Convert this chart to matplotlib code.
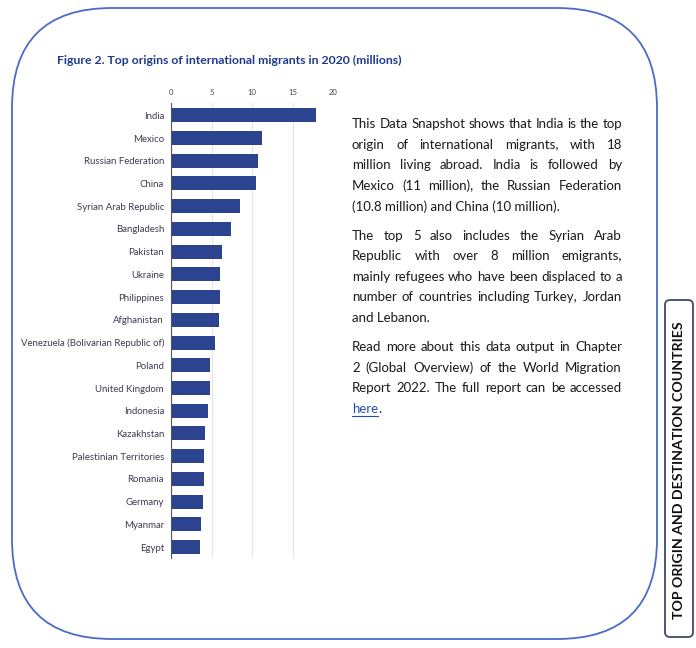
import matplotlib.pyplot as plt
import numpy as np
from matplotlib.patches import FancyBboxPatch

countries = ['India', 'Mexico', 'Russian Federation', 'China', 'Syrian Arab Republic',
             'Bangladesh', 'Pakistan', 'Ukraine', 'Philippines', 'Afghanistan',
             'Venezuela (Bolivarian Republic of)', 'Poland', 'United Kingdom', 'Indonesia',
             'Kazakhstan', 'Palestinian Territories', 'Romania', 'Germany', 'Myanmar', 'Egypt']
migrants = [17.9, 11.2, 10.8, 10.5, 8.5, 7.4, 6.3, 6.1, 6.1, 5.9,
            5.4, 4.8, 4.8, 4.6, 4.2, 4.1, 4.1, 3.9, 3.7, 3.6]
xticks = [0, 5, 10, 15, 20]

title = 'Figure 2. Top origins of international migrants in 2020 (millions)'
side_label = 'TOP ORIGIN AND DESTINATION COUNTRIES'
paragraphs = [
    ['This Data Snapshot shows that India is the top',
     'origin of international migrants, with 18',
     'million living abroad. India is followed by',
     'Mexico (11 million), the Russian Federation',
     '(10.8 million) and China (10 million).'],
    ['The top 5 also includes the Syrian Arab',
     'Republic with over 8 million emigrants,',
     'mainly refugees who have been displaced to a',
     'number of countries including Turkey, Jordan',
     'and Lebanon.'],
    ['Read more about this data output in Chapter',
     '2 (Global Overview) of the World Migration',
     'Report 2022. The full report can be accessed',
     'here.'],
]

fig = plt.figure(figsize=(6.96, 6.48), dpi=100)

# page layer in pixel coordinates
bg = fig.add_axes([0, 0, 1, 1])
bg.set_xlim(0, 696)
bg.set_ylim(648, 0)
bg.axis('off')
bg.add_patch(FancyBboxPatch((12, 8), 645, 631, boxstyle='round,pad=0,rounding_size=100',
                            fc='none', ec='#4a6cc8', lw=1.3))
bg.add_patch(FancyBboxPatch((665, 300), 28, 337, boxstyle='round,pad=0,rounding_size=5',
                            fc='none', ec='#3e4868', lw=1.3))
bg.text(679, 470, side_label, rotation=90, ha='center', va='center',
        fontsize=10.2, fontweight='bold', family='Lato', color='#111111')
bg.text(57, 60, title, ha='left', va='center', fontsize=8.8, fontweight='bold',
        family='Lato', color='#1f3a8a')

# justified paragraph text
renderer = fig.canvas.get_renderer()
x_left, x_right = 352, 622
line_step = 20.6
par_starts = [124, 235.5, 347]
txt_kw = dict(fontsize=9.5, family='Lato', color='#1a1a1a', va='center', ha='left')
for start, lines in zip(par_starts, paragraphs):
    for i, line in enumerate(lines):
        y = start + i * line_step
        if i == len(lines) - 1:
            if line == 'here.':
                t = bg.text(x_left, y, 'here', **{**txt_kw, 'color': '#1f4fb0'})
                w = t.get_window_extent(renderer).width
                bg.text(x_left + w, y, '.', **txt_kw)
                bg.plot([x_left, x_left + w], [y + 7, y + 7], color='#1f4fb0', lw=0.8)
            else:
                bg.text(x_left, y, line, **txt_kw)
            continue
        words = line.split()
        objs = [bg.text(0, y, w, **txt_kw) for w in words]
        widths = [o.get_window_extent(renderer).width for o in objs]
        gap = (x_right - x_left - sum(widths)) / (len(words) - 1)
        x = x_left
        for o, w in zip(objs, widths):
            o.set_x(x)
            x += w + gap

# bar chart
ax = fig.add_axes([171 / 696, 1 - 558 / 648, 162 / 696, 455 / 648])
y = np.arange(len(countries))
ax.barh(y, migrants, height=0.62, color='#2c4390', zorder=3)
ax.set_xlim(0, 20)
ax.set_ylim(len(countries) - 0.52, -0.54)
ax.xaxis.tick_top()
ax.set_xticks(xticks)
ax.set_yticks(y, countries)
for lab in ax.get_xticklabels() + ax.get_yticklabels():
    lab.set_family('Lato')
ax.tick_params(axis='x', length=0, labelsize=5.5, pad=5, colors='#444444')
ax.tick_params(axis='y', length=0, labelsize=6.9, pad=5, colors='#3d3a4f')
ax.grid(axis='x', color='#e6e6e6', lw=0.9)
ax.set_axisbelow(True)
for s in ['top', 'right', 'bottom']:
    ax.spines[s].set_visible(False)
ax.spines['left'].set_color('#555555')
ax.spines['left'].set_zorder(4)
ax.patch.set_alpha(0)

fig.savefig('out.png', dpi=100)
